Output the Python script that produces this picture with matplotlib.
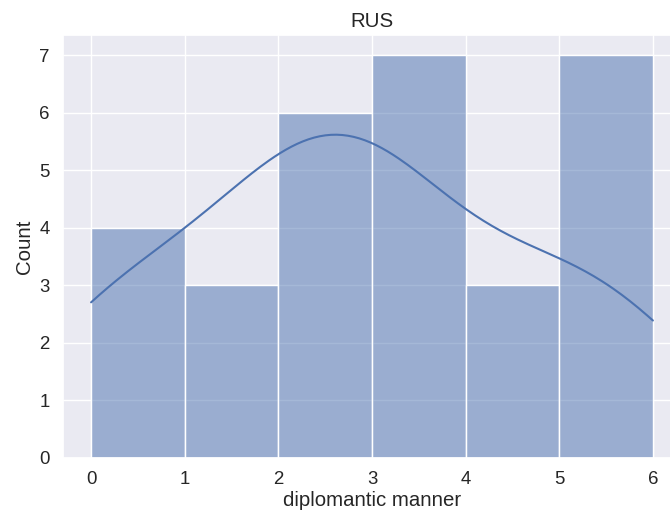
import numpy as np
import matplotlib
matplotlib.use("Agg")
import matplotlib.pyplot as plt
import seaborn as sns

# observed scores and how often each occurs
scores = [0, 1, 2, 3, 4, 5, 6]
freq = [4, 3, 6, 7, 3, 4, 3]

values = np.repeat(scores, freq)

sns.set_theme(font_scale=1.22)
plt.rcParams["font.family"] = ["Liberation Sans", "DejaVu Sans"]
fig = plt.figure(figsize=(6.7, 5.13))
ax = fig.add_axes([63 / 670, 55 / 513, 618 / 670, 423 / 513])
sns.histplot(values, bins=6, kde=True, ax=ax)
ax.set_title("RUS")
ax.set_xlabel("diplomantic manner", labelpad=2)
ax.set_ylabel("Count")
plt.savefig("out.png", dpi=100)
